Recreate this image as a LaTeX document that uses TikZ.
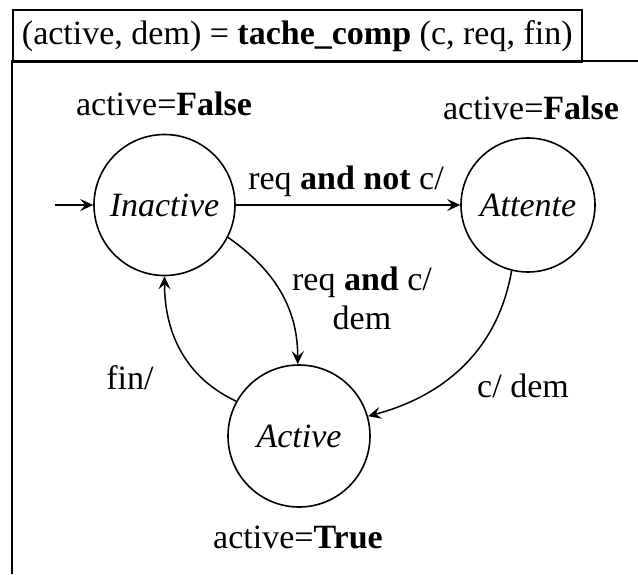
\documentclass[tikz,border=0pt]{standalone}
\usepackage{fontspec}
\setmainfont{Liberation Serif}
\usetikzlibrary{arrows.meta}
\begin{document}
\begin{tikzpicture}[x=1pt,y=-1pt,
  every node/.style={font=\fontsize{34}{39}\selectfont},
  state/.style={draw,circle,line width=1.6pt,minimum size=141pt,inner sep=0pt,font=\fontsize{34}{39}\selectfont\itshape},
  trans/.style={line width=1.5pt,-{Stealth[length=13pt,width=12pt,inset=5pt]}},
  lbl/.style={inner sep=1pt}]
\useasboundingbox (0,0) rectangle (638,574);
% title box and frame
\node[draw,line width=1.6pt,minimum width=569pt,minimum height=52pt,anchor=north west,inner sep=0pt] (title) at (12,9) {(active, dem) = \textbf{tache\_comp} (c, req, fin)};
\coordinate (ftl) at (12,61);
\coordinate (ftr) at (638,61);
\coordinate (fbl) at (12,574);
\draw[line width=1.6pt] (ftr) -- (ftl) -- (fbl);
% states
\node[state] (ina) at (164.5,205) {Inactive};
\node[state,minimum size=134pt] (att) at (528,205) {Attente};
\node[state,minimum size=142pt] (act) at (299,436) {Active};
% state outputs
\node[lbl] (la) at (164,104) {active=\textbf{False}};
\node[lbl] (lb) at (531,108) {active=\textbf{False}};
\node[lbl] (lc) at (298,537) {active=\textbf{True}};
% initial
\coordinate (init) at (55,205);
\draw[trans] (init) -- (ina.west);
% transitions
\draw[trans] (ina) -- (att);
\node[lbl] (t1) at (346,181) {req \textbf{and not} c/};
\draw[trans] (ina.-27) to[out=-35,in=90] (act.91);
\node[lbl,align=center] (t2) at (362,298) {req \textbf{and} c/\\dem};
\draw[trans] (att.-104) to[out=-100,in=15] (act.16);
\node[lbl] (t3) at (523,386) {c/ dem};
\draw[trans] (act.151) to[out=155,in=-90] (ina.-90);
\node[lbl] (t4) at (130,378) {fin/};
\end{tikzpicture}
\end{document}
